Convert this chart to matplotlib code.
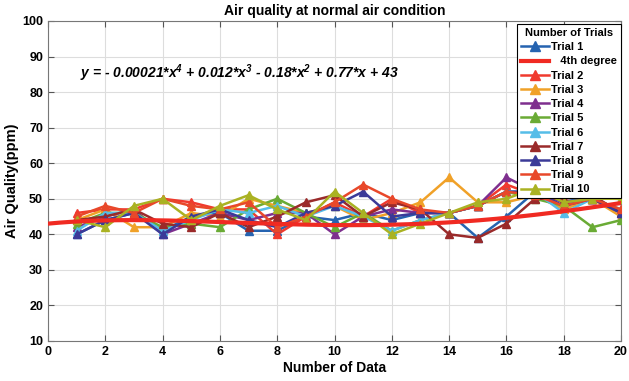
import numpy as np
import matplotlib
matplotlib.use('Agg')
import matplotlib.pyplot as plt

plt.rcParams['font.family'] = ['Liberation Sans', 'DejaVu Sans']
plt.rcParams['mathtext.default'] = 'regular'

x = np.arange(1, 21)

trial1 = [40, 44, 46, 41, 45, 46, 41, 41, 45, 44, 46, 44, 46, 46, 39, 45, 52, 49, 51, 51]
trial2 = [46, 47, 47, 50, 49, 47, 47, 40, 45, 49, 45, 50, 46, 46, 48, 54, 51, 48, 50, 47]
trial3 = [44, 47, 42, 42, 46, 45, 50, 48, 46, 48, 44, 46, 49, 56, 49, 49, 51, 47, 50, 45]
trial4 = [42, 45, 47, 40, 43, 46, 44, 46, 46, 40, 45, 47, 46, 46, 48, 56, 52, 49, 50, 46]
trial5 = [43, 46, 46, 42, 43, 42, 47, 50, 46, 42, 46, 41, 44, 46, 48, 52, 50, 48, 42, 44]
trial6 = [41, 46, 46, 41, 44, 47, 46, 48, 45, 48, 45, 41, 44, 46, 48, 52, 52, 46, 50, 47]
trial7 = [44, 45, 47, 43, 42, 46, 42, 45, 49, 51, 45, 49, 47, 40, 39, 43, 50, 50, 51, 46]
trial8 = [40, 44, 46, 40, 45, 47, 44, 42, 46, 48, 52, 45, 46, 46, 48, 52, 52, 48, 50, 46]
trial9 = [45, 48, 46, 50, 48, 47, 49, 42, 45, 49, 54, 50, 47, 46, 48, 52, 51, 48, 50, 47]
trial10 = [44, 42, 48, 50, 44, 48, 51, 47, 44, 52, 46, 40, 43, 46, 49, 50, 53, 49, 50, 50]

trials = [trial1, trial2, trial3, trial4, trial5, trial6, trial7, trial8, trial9, trial10]
colors = ['#2563b0', '#f03a2e', '#f0a128', '#7e2f8e', '#6aab35',
          '#55bde8', '#9a2a2a', '#3b3a98', '#e8482a', '#aab223']

# 4th degree fit, coefficients as printed on the chart (highest power first)
fit_coef = [-0.00021, 0.012, -0.18, 0.77, 43]
xf = np.linspace(0, 20, 200)
yf = np.polyval(fit_coef, xf)

fig = plt.figure(figsize=(6.29, 3.81), dpi=100)
ax = fig.add_axes([0.0763, 0.105, 0.911, 0.840])

handles = []
labels = []
for i, t in enumerate(trials):
    h, = ax.plot(x, t, '-^', color=colors[i], lw=1.8, ms=6, zorder=3)
    handles.append(h)
    labels.append('Trial %d' % (i + 1))
hf, = ax.plot(xf, yf, color='#f02a22', lw=3, zorder=4)
handles.insert(1, hf)
labels.insert(1, '   4th degree')

ax.set_xlim(0, 20)
ax.set_ylim(10, 100)
ax.set_xticks(range(0, 21, 2))
ax.set_yticks(range(10, 101, 10))
ax.grid(True, color='#dddddd', lw=0.8)
ax.set_axisbelow(True)
ax.tick_params(direction='in', length=4, labelsize=9, color='#555555',
               top=True, right=True)
for lab in ax.get_xticklabels() + ax.get_yticklabels():
    lab.set_fontweight('bold')
for s in ax.spines.values():
    s.set_color('#777777')

ax.set_title('Air quality at normal air condition', fontsize=10, fontweight='bold', pad=4)
ax.set_xlabel('Number of Data', fontsize=10, fontweight='bold', labelpad=2)
ax.set_ylabel('Air Quality(ppm)', fontsize=10.5, fontweight='bold', labelpad=2)

ax.text(1.12, 84, 'y = - 0.00021*x$^4$ + 0.012*x$^3$ - 0.18*x$^2$ + 0.77*x + 43',
        fontsize=10, fontweight='bold', style='italic')

leg = ax.legend(handles, labels, title='Number of Trials', loc='upper right',
                bbox_to_anchor=(1.0, 0.99), borderaxespad=0, fontsize=8,
                fancybox=False, framealpha=1, edgecolor='black',
                handlelength=2.5, labelspacing=0.38, borderpad=0.35,
                handletextpad=0.2, markerscale=1.15)
leg.get_title().set_fontweight('bold')
leg.get_title().set_fontsize(8)
for t in leg.get_texts():
    t.set_fontweight('bold')
leg.get_frame().set_linewidth(0.8)

fig.savefig('out.png', dpi=100)
